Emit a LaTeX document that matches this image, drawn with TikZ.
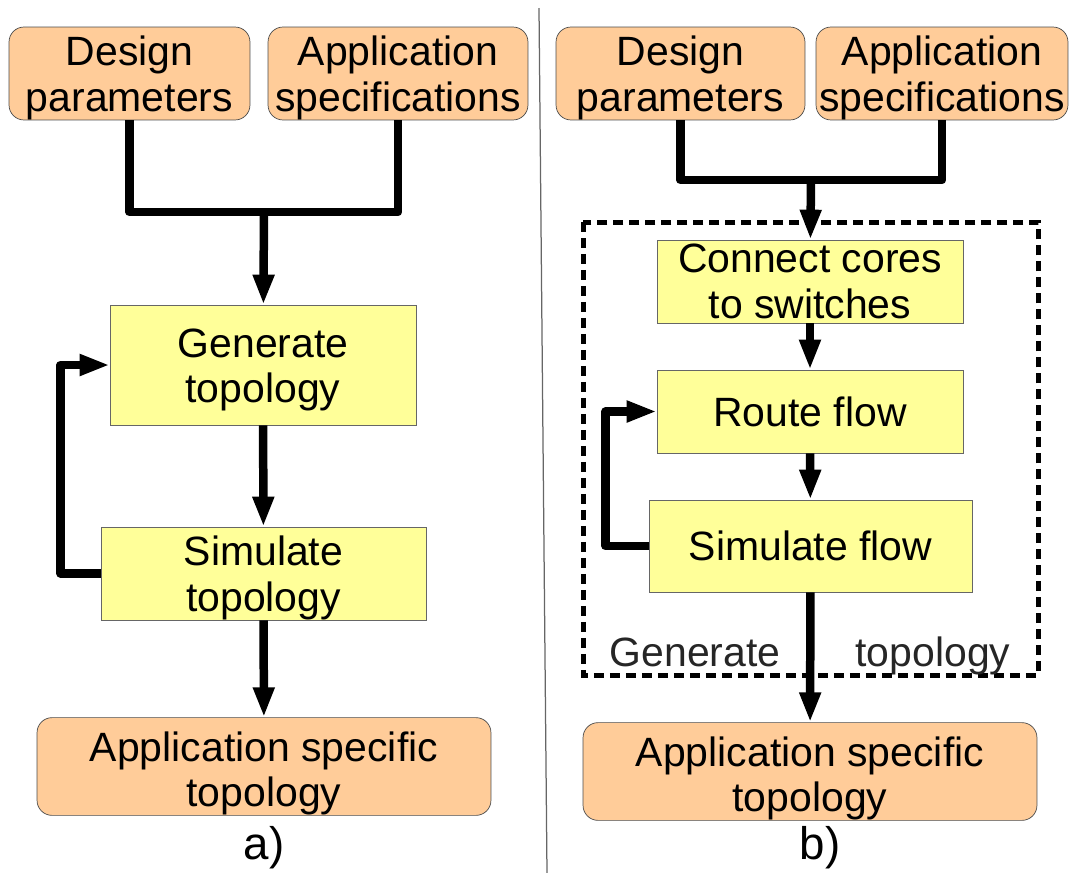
\documentclass[tikz,border=0pt]{standalone}
\usepackage{fontspec}
\setmainfont{Liberation Sans}
\usetikzlibrary{arrows.meta}
\definecolor{BoxPeach}{HTML}{FFCC99}
\definecolor{BoxYellow}{HTML}{FFFF99}
\newcommand{\flowfont}{\fontsize{23.3}{25.8}\selectfont}
\newcommand{\tagfont}{\fontsize{26}{30}\selectfont}
\newcommand{\lift}{\rule{0pt}{22pt}}

\begin{document}
\begin{tikzpicture}[x=0.02cm, y=-0.02cm,
  ext/.style={rounded corners=0.3cm, draw=black!70, fill=BoxPeach, align=center,
              font=\flowfont, inner sep=0pt, minimum height=1.86cm},
  stage/.style={draw=black!60, fill=BoxYellow, align=center, font=\flowfont,
              inner sep=0pt},
  link/.style={line width=0.17cm, line join=round},
  arr/.style={link, -{Triangle[length=0.6cm, width=0.4cm]}},
  genframe/.style={draw, line width=0.1cm, dash pattern=on 0.2cm off 0.12cm},
  lbl/.style={font=\flowfont, text=black!85, inner sep=0pt},
]
  \useasboundingbox (0,0) rectangle (1073,873);

  % panel a)
  \node[ext, minimum width=4.82cm] (dpA) at (129.5,73.5) {\lift Design\\parameters};
  \node[ext, minimum width=5.2cm] (asA) at (398,73.5) {\lift Application\\specifications};
  \coordinate (jA) at (264,212);
  \draw[link] (dpA.south) |- (jA);
  \draw[link] (asA.south) |- (jA);
  \node[stage, minimum width=6.12cm, minimum height=2.4cm] (genA) at (263,365)
    {\lift Generate\\topology};
  \draw[arr] (jA) -- (genA);
  \node[stage, minimum width=6.5cm, minimum height=1.86cm] (simA) at (263.5,573.5)
    {\lift Simulate\\topology};
  \draw[arr] (genA) -- (simA);
  \draw[arr] (simA.west) -- ++(-40,0) |- (genA.west);
  \node[ext, minimum width=9.08cm] (outA) at (264,766.5)
    {\rule{0pt}{25pt}Application specific\\topology};
  \draw[arr] (simA) -- (outA);
  \node[font=\tagfont] (tagA) at (264,848) {a)};

  % separator
  \draw[black!60, line width=0.025cm] (539,8) -- (547,873);

  % panel b)
  \node[ext, minimum width=4.98cm] (dpB) at (680.5,73.5) {\lift Design\\parameters};
  \node[ext, minimum width=5.04cm] (asB) at (942,73.5) {\lift Application\\specifications};
  \coordinate (jB) at (811,180);
  \draw[link] (dpB.south) |- (jB);
  \draw[link] (asB.south) |- (jB);
  \draw[genframe] (583,222) rectangle (1038,675);
  \node[stage, minimum width=6.12cm, minimum height=1.66cm] (conB) at (810,281.5)
    {Connect cores\\to switches};
  \draw[arr] (jB) -- (conB);
  \node[stage, minimum width=6.12cm, minimum height=1.66cm] (routeB) at (810,411.5)
    {Route flow};
  \draw[arr] (conB) -- (routeB);
  \node[stage, minimum width=6.46cm, minimum height=1.84cm] (simB) at (810.5,546)
    {Simulate flow};
  \draw[arr] (routeB) -- (simB);
  \draw[arr] (simB.west) -- ++(-43,0) |- (routeB.west);
  \node[ext, minimum width=9.08cm] (outB) at (810,771.5)
    {\rule{0pt}{25pt}Application specific\\topology};
  \draw[arr] (simB) -- (outB);
  \node[lbl, anchor=base] (genL) at (695,666) {Generate};
  \node[lbl, anchor=base] (topL) at (933,666) {topology};
  \node[font=\tagfont] (tagB) at (820,848) {b)};
\end{tikzpicture}
\end{document}
